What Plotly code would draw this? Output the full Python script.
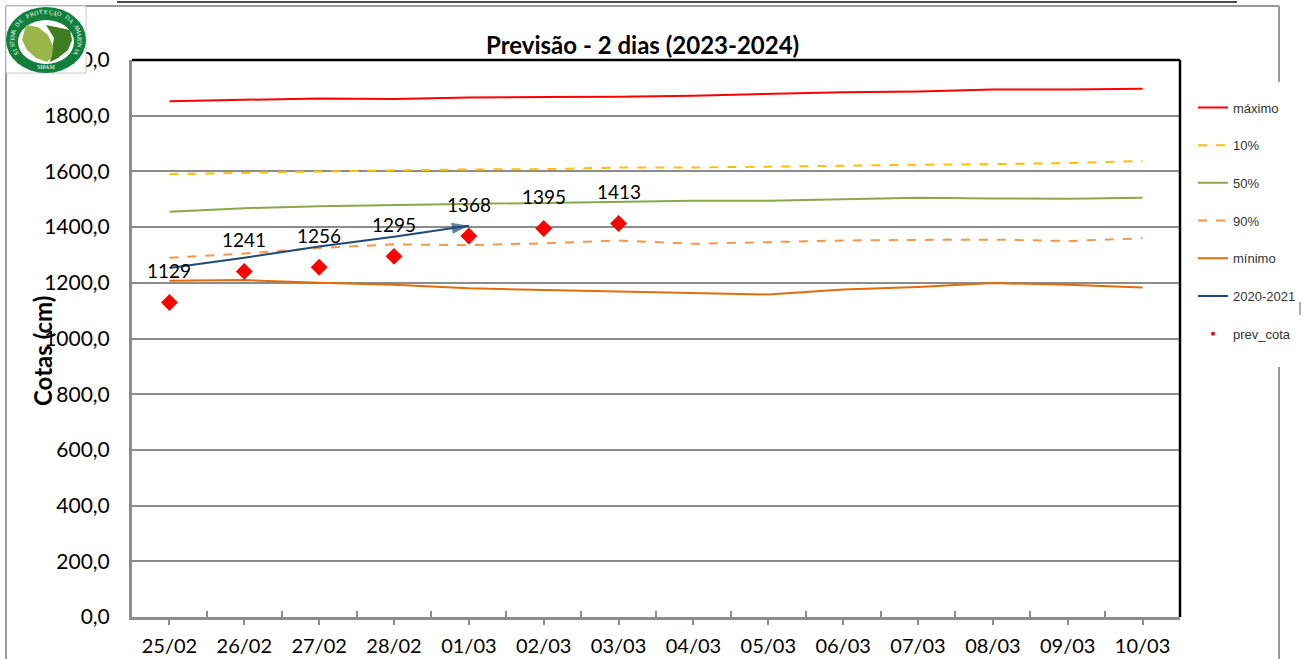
import math
import plotly.graph_objects as go

categories = ["25/02","26/02","27/02","28/02","01/03","02/03","03/03","04/03","05/03","06/03","07/03","08/03","09/03","10/03"]
maximo = [1852,1858,1862,1860,1865,1867,1868,1872,1878,1884,1887,1894,1894,1897]
p10 = [1590,1595,1600,1604,1607,1608,1614,1614,1617,1621,1624,1626,1630,1637]
p50 = [1455,1468,1475,1479,1483,1487,1490,1495,1495,1500,1505,1503,1502,1505]
p90 = [1290,1305,1325,1338,1335,1342,1352,1340,1346,1352,1354,1355,1350,1360]
minimo = [1207,1210,1200,1193,1180,1175,1170,1163,1158,1176,1185,1199,1193,1183]
ano_2020 = [1253,1290,1330,1365,1405]
prev_cota = [1129,1241,1256,1295,1368,1395,1413]
y_ticks = [0,200,400,600,800,1000,1200,1400,1600,1800,2000]

W, H = 1305, 659
L, R, T, B = 132, 1180, 60, 617
FONT = "Lato, Carlito, Calibri, sans-serif"
NARROW = "Liberation Sans Narrow, Arial Narrow, sans-serif"
xs = list(range(len(categories)))

def px(x): return (x - L) / (R - L)
def py(y): return (B - y) / (B - T)
def paper_line(x0, y0, x1, y1, color, width):
    return dict(type="line", xref="paper", yref="paper", x0=px(x0), y0=py(y0), x1=px(x1), y1=py(y1),
                line=dict(color=color, width=width), layer="above")
def path(points, fill):
    d = "M " + " L ".join(f"{px(a):.5f},{py(b):.5f}" for a, b in points) + " Z"
    return dict(type="path", xref="paper", yref="paper", path=d, fillcolor=fill, line=dict(width=0), layer="above")
def ellipse(cx, cy, rx, ry, fill):
    return dict(type="circle", xref="paper", yref="paper", x0=px(cx-rx), x1=px(cx+rx), y0=py(cy+ry), y1=py(cy-ry),
                fillcolor=fill, line=dict(width=0), layer="above")
def label(x, y, text, size, family=FONT, color="#000", angle=0):
    return dict(xref="paper", yref="paper", x=px(x), y=py(y), text=text, showarrow=False, xanchor="center",
                yanchor="middle", textangle=angle, font=dict(family=family, size=size, color=color))

fig = go.Figure()
series = [("máximo", maximo, "#ff0000", "solid"), ("10%", p10, "#ffc000", "dash"), ("50%", p50, "#8aa84a", "solid"),
          ("90%", p90, "#f79646", "dash"), ("mínimo", minimo, "#e36c0a", "solid")]
for name, vals, col, dash in series:
    fig.add_trace(go.Scatter(x=xs, y=vals, name=name, mode="lines", legendgroup=name,
                             line=dict(color=col, width=2, dash=dash)))
fig.add_trace(go.Scatter(x=xs[:len(ano_2020)], y=ano_2020, name="2020-2021", mode="lines", legendgroup="2020-2021",
                         line=dict(color="#1f497d", width=2)))
fig.add_trace(go.Scatter(x=xs[len(ano_2020)-2:len(ano_2020)], y=ano_2020[-2:], mode="markers", showlegend=False,
                         hoverinfo="skip",
                         marker=dict(symbol="arrow", angleref="previous", size=[0, 18], color="#1f497d", line=dict(width=0))))
fig.add_trace(go.Scatter(x=xs[:len(prev_cota)], y=prev_cota, mode="markers", showlegend=False,
                         marker=dict(symbol="diamond", size=13, color="#ff0000")))
fig.add_trace(go.Scatter(x=[None], y=[None], name="prev_cota", mode="markers", legendgroup="prev_cota",
                         marker=dict(symbol="circle", size=4, color="#ff0000")))

annotations = [dict(x=xs[i], y=v, text=str(v), showarrow=False, yshift=32, xref="x", yref="y",
                    font=dict(family=FONT, size=19, color="#000")) for i, v in enumerate(prev_cota)]
annotations.append(label(642, 44, "<b>Previsão - 2 dias (2023-2024)</b>", 24))
annotations.append(label(42, 351, "<b>Cotas (cm)</b>", 24, angle=-90))
# logo lettering
ring = "SISTEMA DE PROTEÇÃO DA AMAZÔNIA"
cx, cy, rx, ry = 46, 39.5, 34, 27.5
a0, a1 = 150, 390
for i, ch in enumerate(ring):
    a = math.radians(a0 + (a1 - a0) * i / (len(ring) - 1))
    annotations.append(label(cx + rx * math.cos(a), cy + ry * math.sin(a), ch, 6, "Liberation Serif", "#ffffff",
                             math.degrees(a) + 90))
annotations.append(label(46, 67, "SIPAM", 6, "Liberation Serif", "#ffffff"))

shapes = [
    # page frame
    paper_line(117, 2, 1237, 2, "#111111", 1.5),
    paper_line(6, 6, 1279, 6, "#9a9a9a", 2),
    paper_line(6, 6, 6, 659, "#9a9a9a", 2),
    paper_line(1279, 6, 1279, 82, "#9a9a9a", 2),
    paper_line(1279, 367, 1279, 659, "#9a9a9a", 2),
    # plot border
    paper_line(L, T, R, T, "#000000", 2.5),
    paper_line(R, T, R, B, "#000000", 2.5),
    # logo
    dict(type="rect", xref="paper", yref="paper", x0=px(6), x1=px(86), y0=py(73), y1=py(6), fillcolor="#ffffff",
         line=dict(color="#c8c8c8", width=1), layer="above"),
    ellipse(46, 40, 40, 33, "#12803c"),
    ellipse(46, 42, 28, 22, "#ffffff"),
    path([(46, 25), (56, 27), (70, 30), (72, 40), (68, 50), (58, 58), (50, 62), (52, 50), (54, 38)], "#3f7d22"),
    path([(26, 25), (38, 27), (48, 35), (53, 46), (52, 57), (47, 62), (36, 58), (27, 50), (22, 40)], "#9ab54a"),
    # small grey mark at the right edge
    paper_line(1300, 302, 1300, 315, "#b0b0b0", 2),
]

fig.update_layout(
    width=W, height=H, autosize=False,
    margin=dict(l=L, r=W-R, t=T, b=H-B, autoexpand=False),
    paper_bgcolor="#ffffff", plot_bgcolor="#ffffff",
    font=dict(family=FONT, color="#000"),
    showlegend=True,
    legend=dict(x=px(1193), y=py(92.5), xanchor="left", yanchor="top", bgcolor="rgba(255,255,255,0)",
                tracegroupgap=17.8, itemwidth=30, font=dict(family=NARROW, size=13, color="#333333")),
    xaxis=dict(range=[-0.5, 13.5], automargin=False, tickmode="array", tickvals=xs, ticktext=categories, ticks="outside", ticklen=5,
               tickwidth=1.5, tickcolor="#8c8c8c", showgrid=False, zeroline=False,
               showline=True, linecolor="#8c8c8c", linewidth=3, tickfont=dict(family=FONT, size=20), ticklabelstandoff=4,
               minor=dict(tickmode="array", tickvals=[x + 0.5 for x in xs], ticks="inside", ticklen=6, tickcolor="#8c8c8c", tickwidth=1.5, showgrid=False)),
    yaxis=dict(range=[0, 2000], automargin=False, tickmode="array", tickvals=y_ticks, ticktext=[f"{v},0" for v in y_ticks], ticks="",
               showgrid=True, gridcolor="#8c8c8c", gridwidth=2, zeroline=False, showline=True, linecolor="#8c8c8c", linewidth=3,
               tickfont=dict(family=FONT, size=21), ticklabelstandoff=15),
    shapes=shapes, annotations=annotations, hovermode=False,
)
post = "document.documentElement.style.margin='0';document.body.style.margin='0';document.body.style.overflow='hidden';"
fig.write_html("out.html", config={"displayModeBar": False}, post_script=post)
